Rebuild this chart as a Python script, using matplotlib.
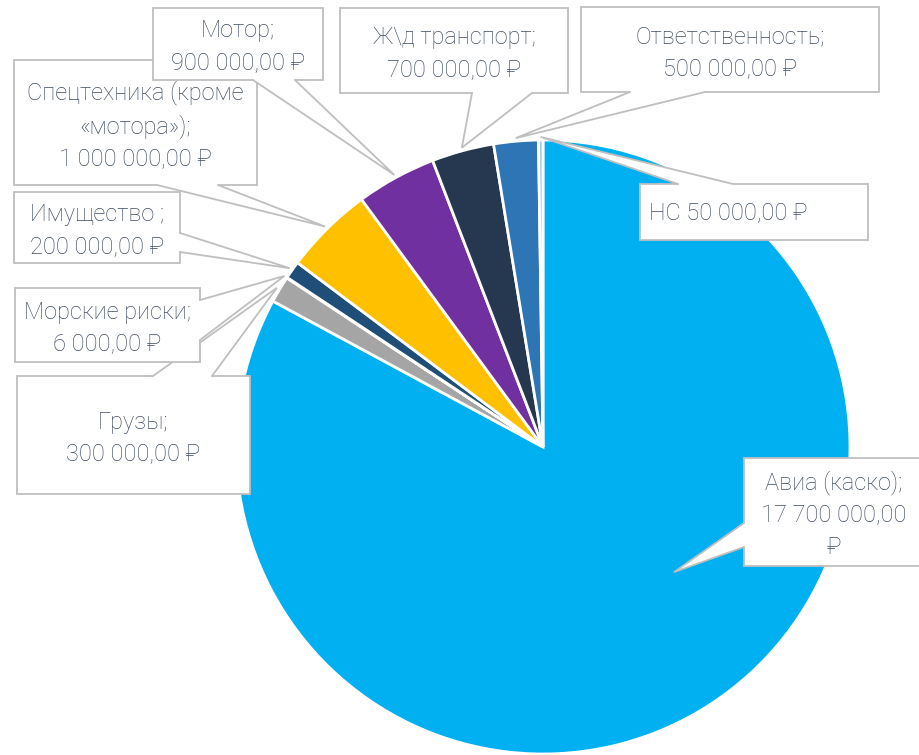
import numpy as np
import matplotlib
matplotlib.use("Agg")
import matplotlib.pyplot as plt
from matplotlib.patches import Rectangle, Polygon

plt.rcParams['font.family'] = ['Roboto', 'DejaVu Sans']

# data
names = ['Авиа (каско)', 'Грузы', 'Морские риски', 'Имущество ',
         'Спецтехника (кроме\n«мотора»)', 'Мотор', 'Ж\\д транспорт',
         'Ответственность', 'НС']
values = [17700000, 300000, 6000, 200000, 1000000, 900000, 700000, 500000, 50000]
colors = ['#00B0F0', '#A5A5A5', '#5B9BD5', '#1F4E79', '#FFC000',
          '#7030A0', '#253850', '#2E75B6', '#9DC3E6']


def rub(v):
    return f"{v:,.2f}".replace(",", " ").replace(".", ",")


labels = []
for n, v in zip(names, values):
    if n == 'НС':
        labels.append(f"{n} {rub(v)} ₽")
    elif v > 10000000:
        labels.append(f"{n};\n{rub(v)}\n₽")
    else:
        labels.append(f"{n};\n{rub(v)} ₽")

# label layout (pixels, y down)
boxes = [(744, 458, 924, 566), (17, 376, 250, 494), (15, 288, 200, 362),
         (14, 192, 180, 263), (14, 60, 257, 185), (153, 8, 323, 80),
         (340, 8, 568, 93), (581, 7, 879, 92), (640, 184, 868, 240)]
sides = ['left', 'top', 'right', 'right', 'bottom', 'bottom', 'bottom', 'bottom', 'top']
bases = [(523, 547), (153, 212), (300, 340), (233, 252), (157, 218),
         (253, 295), (472, 532), (630, 705), (678, 733)]
tip_r = [0.59, 1.01, 1.01, 1.01, 1.01, 1.01, 1.01, 1.01, 1.01]
tip_shift = [-15.5, 0, 0, 0, 0, 0, 0, 0, 0]

cx, cy, R = 543, 447, 307
edge_c = '#BFBFBF'
text_c = '#3E4D61'

fig = plt.figure(figsize=(9.2, 7.55), dpi=100)
ax = fig.add_axes([0, 0, 1, 1])
wedges, _ = ax.pie(values, colors=colors, startangle=-90, counterclock=True,
                   center=(cx, cy), radius=R,
                   wedgeprops=dict(edgecolor='white', linewidth=2))
ax.set_xlim(0, 920)
ax.set_ylim(755, 0)
ax.set_aspect('equal')
ax.axis('off')

for i, (w, lab) in enumerate(zip(wedges, labels)):
    z = 3 + i
    x0, y0, x1, y1 = boxes[i]
    ang = np.deg2rad((w.theta1 + w.theta2) / 2 + tip_shift[i])
    tx = cx + R * tip_r[i] * np.cos(ang)
    ty = cy + R * tip_r[i] * np.sin(ang)
    a, b = bases[i]
    s = sides[i]
    if s == 'bottom':
        p1, p2, q1, q2 = (a, y1), (b, y1), (a, y1 - 2), (b, y1 - 2)
    elif s == 'top':
        p1, p2, q1, q2 = (a, y0), (b, y0), (a, y0 + 2), (b, y0 + 2)
    elif s == 'left':
        p1, p2, q1, q2 = (x0, a), (x0, b), (x0 + 2, a), (x0 + 2, b)
    else:
        p1, p2, q1, q2 = (x1, a), (x1, b), (x1 - 2, a), (x1 - 2, b)
    ax.add_patch(Rectangle((x0, y0), x1 - x0, y1 - y0, facecolor='white',
                           edgecolor=edge_c, linewidth=1.3, zorder=z))
    ax.add_patch(Polygon([q1, p1, (tx, ty), p2, q2], closed=True,
                         facecolor='white', edgecolor='none', zorder=z + 0.1))
    ax.plot([p1[0], tx, p2[0]], [p1[1], ty, p2[1]], color=edge_c,
            linewidth=1.3, zorder=z + 0.2, solid_joinstyle='miter')
    if i == 8:
        ax.text(x0 + 9, (y0 + y1) / 2 + 1, lab, ha='left', va='center',
                fontsize=17, fontweight='light', color=text_c, zorder=z + 0.3)
    else:
        ax.text((x0 + x1) / 2, (y0 + y1) / 2 + 3, lab, ha='center', va='center',
                fontsize=17, fontweight='light', color=text_c,
                linespacing=1.5, zorder=z + 0.3)

fig.savefig('out.png', dpi=100)
